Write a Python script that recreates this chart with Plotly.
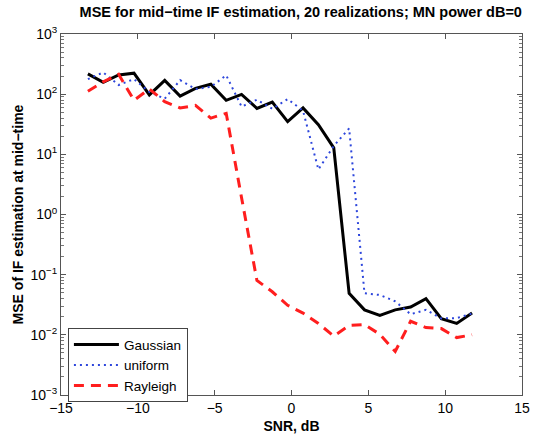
import plotly.graph_objects as go

snr = [-13.25, -12.25, -11.25, -10.25, -9.25, -8.25, -7.25, -6.25, -5.25, -4.25,
       -3.25, -2.25, -1.25, -0.25, 0.75, 1.75, 2.75, 3.75, 4.75, 5.75,
       6.75, 7.75, 8.75, 9.75, 10.75, 11.75]

mse_gaussian = [217, 157, 209, 223, 97, 169, 93, 125, 146, 79,
                99, 58, 74, 35, 59, 31, 12.8, 0.049, 0.026, 0.021,
                0.026, 0.029, 0.040, 0.0186, 0.0155, 0.023]

mse_uniform = [178, 230, 142, 178, 109, 84, 171, 122, 132, 206,
               62, 81, 57, 83, 53, 5.6, 13.8, 27, 0.049, 0.046,
               0.036, 0.022, 0.026, 0.0187, 0.019, 0.0225]

mse_rayleigh = [112, 160, 214, 79, 122, 75, 59, 65, 40, 48,
                1.9, 0.080, 0.052, 0.031, 0.023, 0.0155, 0.0095, 0.0143, 0.0148, 0.0102,
                0.0053, 0.0168, 0.0132, 0.0127, 0.0090, 0.0100]

y_tick_vals = [1e-3, 1e-2, 1e-1, 1, 10, 100, 1000]
y_tick_text = ["10<sup>\u22123</sup>", "10<sup>\u22122</sup>", "10<sup>\u22121</sup>",
               "10<sup>0</sup>", "10<sup>1</sup>", "10<sup>2</sup>", "10<sup>3</sup>"]

FONT = "Liberation Sans, Arial, sans-serif"

fig = go.Figure()
fig.add_trace(go.Scatter(x=snr, y=mse_gaussian, mode="lines", name="Gaussian",
                         line=dict(color="black", width=3)))
fig.add_trace(go.Scatter(x=snr, y=mse_uniform, mode="lines", name="uniform",
                         line=dict(color="rgb(45,70,220)", width=2, dash="2px,4px")))
fig.add_trace(go.Scatter(x=snr, y=mse_rayleigh, mode="lines", name="Rayleigh",
                         line=dict(color="rgb(255,30,30)", width=3, dash="10px,7px")))

fig.update_layout(
    width=539, height=441,
    margin=dict(l=61, r=9, t=34, b=39),
    paper_bgcolor="white", plot_bgcolor="white",
    font=dict(family=FONT, size=13, color="black"),
    title=dict(text="<b>MSE for mid\u2212time IF estimation, 20 realizations; MN power dB=0</b>",
               x=0.558, xanchor="center", y=0.972, yanchor="middle",
               font=dict(size=14.5, family=FONT)),
    showlegend=True,
    legend=dict(x=0.015, y=0.185, xanchor="left", yanchor="top",
                bgcolor="white", bordercolor="#444", borderwidth=1,
                font=dict(size=13.5, family=FONT), tracegroupgap=0,
                itemwidth=45),
)

fig.update_xaxes(range=[-15, 15], dtick=5, tick0=-15, ticks="inside", ticklen=5,
                 showline=True, linecolor="#555", linewidth=1, mirror="ticks",
                 showgrid=False, zeroline=False, tickcolor="#555",
                 tickfont=dict(size=14, family=FONT),
                 title=dict(text="<b>SNR, dB</b>", standoff=6, font=dict(size=14, family=FONT)))

fig.update_yaxes(type="log", range=[-3, 3], tickvals=y_tick_vals, ticktext=y_tick_text,
                 ticks="inside", ticklen=5, tickcolor="#555",
                 minor=dict(ticks="inside", ticklen=3, tickcolor="#777", showgrid=False,
                            dtick="D1"),
                 showline=True, linecolor="#555", linewidth=1, mirror="ticks",
                 showgrid=False, zeroline=False,
                 tickfont=dict(size=14, family=FONT),
                 title=dict(text="<b>MSE of IF estimation at mid\u2212time</b>", standoff=3,
                            font=dict(size=14, family=FONT)))

fig.write_html("out.html")
